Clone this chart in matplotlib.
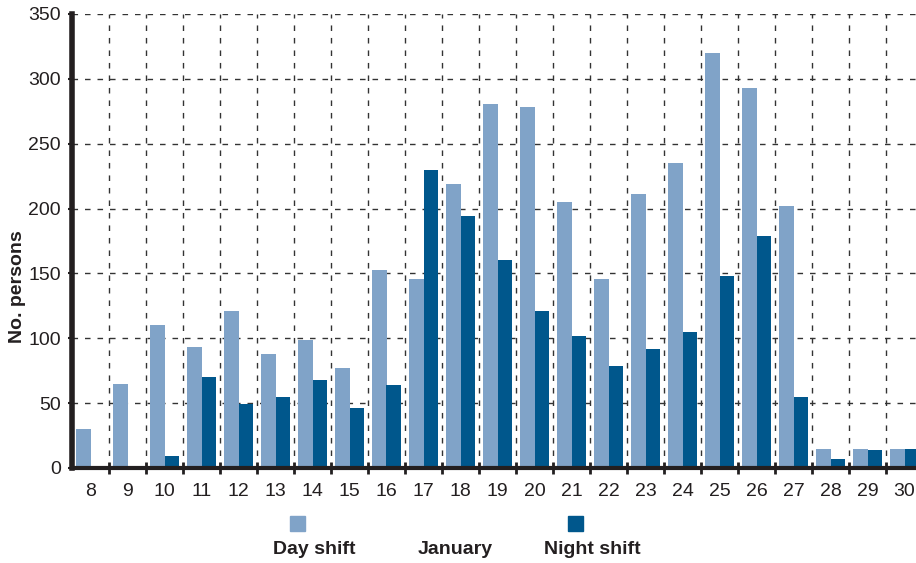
import matplotlib.pyplot as plt
import numpy as np
from matplotlib.patches import Rectangle

plt.rcParams['font.family'] = ['Liberation Sans', 'DejaVu Sans']

# January, day of month
days = ['8', '9', '10', '11', '12', '13', '14', '15', '16', '17', '18', '19',
        '20', '21', '22', '23', '24', '25', '26', '27', '28', '29', '30']
day_shift = [30, 65, 110, 93, 121, 88, 99, 77, 153, 146, 219, 281,
             278, 205, 146, 211, 235, 320, 293, 202, 15, 15, 15]
night_shift = [1, 1, 9, 70, 49, 55, 68, 46, 64, 230, 194, 160,
               121, 102, 79, 92, 105, 148, 179, 55, 7, 14, 15]

light = '#80a3c8'
dark = '#00578c'
ink = '#231f20'

fig = plt.figure(figsize=(9.16, 5.63), dpi=100)
ax = fig.add_axes([72 / 916, 95 / 563, 851 / 916, 454 / 563])

x = np.arange(len(days))
ax.bar(x - 0.2, day_shift, width=0.4, color=light, zorder=3)
ax.bar(x + 0.2, night_shift, width=0.4, color=dark, zorder=3)

ax.set_xlim(-0.5, len(days) - 0.5)
ax.set_ylim(0, 350)
ax.set_yticks(range(0, 351, 50))
ax.set_xticks(x)
ax.set_xticklabels(days)
ax.set_xticks(np.arange(0.5, len(days) - 0.5, 1), minor=True)

ax.grid(True, axis='y', which='major', color='#333333', linestyle=(0, (4, 5)), linewidth=1, zorder=0)
ax.grid(True, axis='x', which='minor', color='#333333', linestyle=(0, (4, 5)), linewidth=1, zorder=0)
ax.grid(False, axis='x', which='major')

for side in ['top', 'right']:
    ax.spines[side].set_visible(False)
ax.spines['left'].set_linewidth(4)
ax.spines['left'].set_color(ink)
ax.spines['bottom'].set_linewidth(3)
ax.spines['bottom'].set_color(ink)
ax.spines['bottom'].set_zorder(4)

ax.tick_params(axis='x', which='major', length=0, pad=11, labelsize=14, labelcolor=ink)
ax.tick_params(axis='x', which='minor', length=8, width=2, direction='inout', color=ink)
ax.tick_params(axis='y', length=3, width=1.5, pad=5, labelsize=14, labelcolor=ink, color=ink)

fig.text(18 / 916, 1 - 287 / 563, 'No. persons', rotation=90, fontsize=14,
         fontweight='bold', color=ink, ha='center', va='center')

# legend row below the chart
fig.patches.append(Rectangle((290 / 916, 1 - 531 / 563), 15 / 916, 15 / 563,
                             transform=fig.transFigure, color=light))
fig.patches.append(Rectangle((568 / 916, 1 - 531 / 563), 15 / 916, 15 / 563,
                             transform=fig.transFigure, color=dark))
for label, xpos in [('Day shift', 314), ('January', 455), ('Night shift', 592)]:
    fig.text(xpos / 916, 1 - 549 / 563, label, fontsize=14, fontweight='bold',
             color=ink, ha='center', va='center')

fig.savefig('out.png', dpi=100)
